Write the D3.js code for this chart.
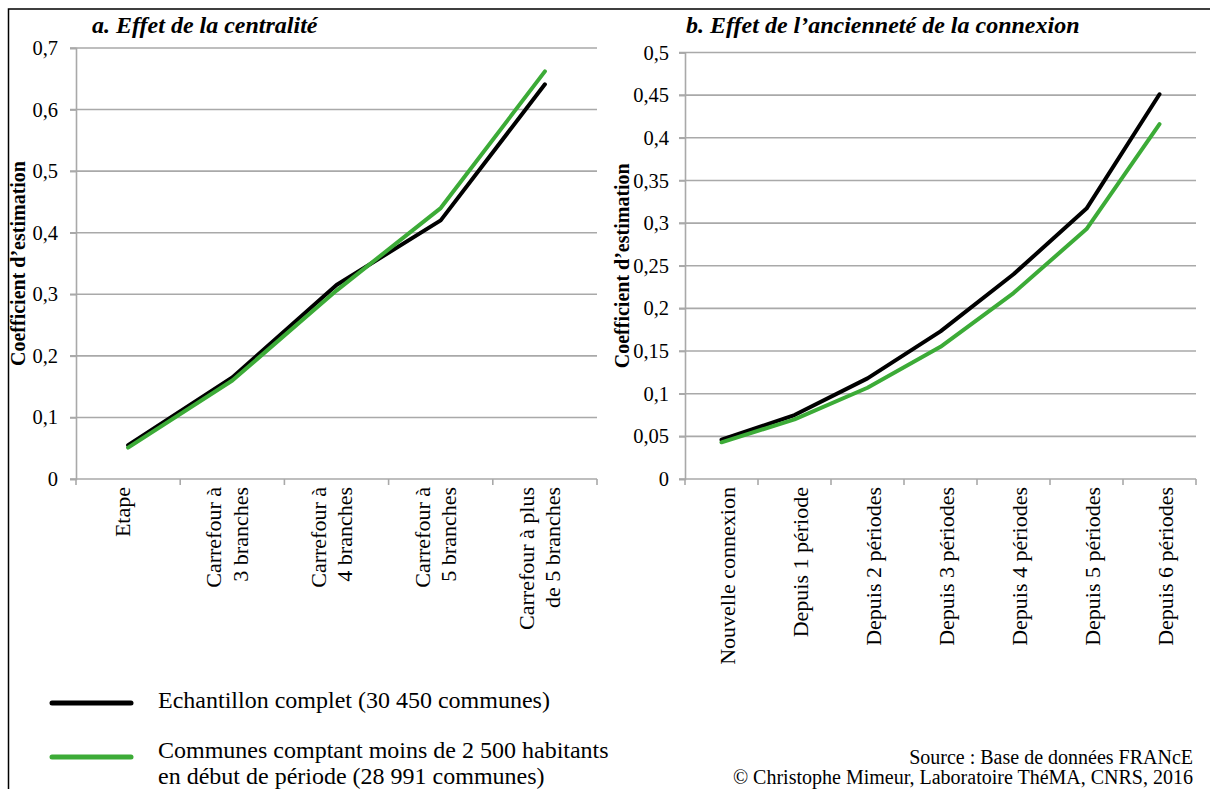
<!DOCTYPE html>
<html lang="fr">
<head>
<meta charset="utf-8">
<script src="https://cdn.jsdelivr.net/npm/d3@7"></script>
<style>
  html, body { margin: 0; padding: 0; background: #fff; }
  svg { display: block; font-family: "Liberation Serif", "Times New Roman", serif; }
  svg text { font-family: "Liberation Serif", "Times New Roman", serif; }
</style>
</head>
<body>
<svg id="chart" width="1210" height="789"></svg>
<script>
// Panel a: effect of centrality
const centralityCats = [["Etape"], ["Carrefour à", "3 branches"], ["Carrefour à", "4 branches"], ["Carrefour à", "5 branches"], ["Carrefour à plus", "de 5 branches"]];
const centralityFull = [0.055, 0.165, 0.315, 0.42, 0.641];
const centralitySmall = [0.051, 0.16, 0.306, 0.44, 0.662];
const centralityTicks = [0, 0.1, 0.2, 0.3, 0.4, 0.5, 0.6, 0.7];

// Panel b: effect of connection age
const connexionCats = [["Nouvelle connexion"], ["Depuis 1 période"], ["Depuis 2 périodes"], ["Depuis 3 périodes"], ["Depuis 4 périodes"], ["Depuis 5 périodes"], ["Depuis 6 périodes"]];
const connexionFull = [0.046, 0.075, 0.118, 0.173, 0.24, 0.317, 0.451];
const connexionSmall = [0.043, 0.07, 0.107, 0.155, 0.218, 0.293, 0.416];
const connexionTicks = [0, 0.05, 0.1, 0.15, 0.2, 0.25, 0.3, 0.35, 0.4, 0.45, 0.5];

const seriesNames = ["Echantillon complet (30 450 communes)", ["Communes comptant moins de 2 500 habitants", "en début de période (28 991 communes)"]];
const seriesColors = ["#000000", "#3cab37"];

const svg = d3.select("#chart");
const fmt = v => String(+v.toFixed(2)).replace(".", ",");

// outer frame (left and top edges)
svg.append("path")
  .attr("d", "M8.5,789 L8.5,9 L1210,9")
  .attr("fill", "none").attr("stroke", "#000").attr("stroke-width", 1.5);

function panel(opt) {
  const g = svg.append("g");
  const x = d3.scaleBand().domain(d3.range(opt.cats.length)).range([opt.x0, opt.x1]).paddingInner(0).paddingOuter(0);
  const y = d3.scaleLinear().domain([0, opt.max]).range([opt.yBottom, opt.yTop]);
  const cx = i => x(i) + x.bandwidth() / 2;

  // horizontal gridlines with outward ticks
  g.append("g").selectAll("line").data(opt.ticks.slice(1)).join("line")
    .attr("x1", opt.x0 - 6).attr("x2", opt.x1)
    .attr("y1", d => y(d)).attr("y2", d => y(d))
    .attr("stroke", "#a9a9a9").attr("stroke-width", 1.6);

  // y axis with labels
  const ya = g.append("g").attr("transform", `translate(${opt.x0},0)`)
    .call(d3.axisLeft(y).tickValues(opt.ticks).tickFormat(fmt).tickSize(6).tickPadding(opt.pad));
  ya.attr("font-family", null).attr("font-size", null);
  ya.select(".domain").attr("stroke", "#a9a9a9").attr("stroke-width", 1.6);
  ya.selectAll(".tick line").attr("stroke", "#a9a9a9").attr("stroke-width", 1.6);
  ya.selectAll(".tick text").attr("fill", "#000").style("font-size", "20.5px");

  // x axis line and boundary ticks
  g.append("line").attr("x1", opt.x0 - 6).attr("x2", opt.x1)
    .attr("y1", opt.yBottom).attr("y2", opt.yBottom)
    .attr("stroke", "#a9a9a9").attr("stroke-width", 1.6);
  const bounds = d3.range(opt.cats.length + 1).map(i => i < opt.cats.length ? x(i) : opt.x1);
  g.append("g").selectAll("line").data(bounds).join("line")
    .attr("x1", d => d).attr("x2", d => d)
    .attr("y1", opt.yBottom).attr("y2", opt.yBottom + 6)
    .attr("stroke", "#a9a9a9").attr("stroke-width", 1.6);

  // rotated category labels
  const fs = 22, lh = 26.5;
  opt.cats.forEach((lines, i) => {
    lines.forEach((t, j) => {
      const bx = cx(i) + (j - (lines.length - 1) / 2) * lh + fs * 0.33 + opt.labelShift;
      g.append("text")
        .attr("transform", `translate(${bx},${opt.yBottom + 8}) rotate(-90)`)
        .attr("text-anchor", "end")
        .style("font-size", fs + "px")
        .text(t);
    });
  });

  // series lines
  const line = d3.line().x((d, i) => cx(i)).y(d => y(d));
  [opt.full, opt.small].forEach((vals, k) => {
    g.append("path").datum(vals)
      .attr("d", line)
      .attr("fill", "none")
      .attr("stroke", seriesColors[k])
      .attr("stroke-width", 4)
      .attr("stroke-linejoin", "round")
      .attr("stroke-linecap", "round");
  });

  // panel title
  g.append("text").attr("x", opt.titleX).attr("y", 33)
    .style("font-size", "24px").style("font-weight", "bold").style("font-style", "italic")
    .text(opt.title);

  // axis title
  g.append("text")
    .attr("transform", `translate(${opt.axisTitleX},${(opt.yTop + opt.yBottom) / 2}) rotate(-90)`)
    .attr("text-anchor", "middle")
    .style("font-size", "20px").style("font-weight", "bold")
    .text("Coefficient d’estimation");
}

panel({
  cats: centralityCats, full: centralityFull, small: centralitySmall, ticks: centralityTicks,
  max: 0.7, x0: 76, x1: 597, yTop: 48, yBottom: 479, pad: 12, labelShift: -5,
  title: "a. Effet de la centralité", titleX: 92, axisTitleX: 25
});

panel({
  cats: connexionCats, full: connexionFull, small: connexionSmall, ticks: connexionTicks,
  max: 0.5, x0: 685, x1: 1196, yTop: 52.5, yBottom: 479, pad: 10, labelShift: 6,
  title: "b. Effet de l’ancienneté de la connexion", titleX: 686, axisTitleX: 629
});

// legend
const legend = svg.append("g");
const legendY = [703, 757];
legendY.forEach((ly, k) => {
  legend.append("line").attr("x1", 52).attr("x2", 131).attr("y1", ly).attr("y2", ly)
    .attr("stroke", seriesColors[k]).attr("stroke-width", 5).attr("stroke-linecap", "round");
});
legend.append("text").attr("x", 158).attr("y", 708).style("font-size", "24px").text(seriesNames[0]);
seriesNames[1].forEach((t, j) => {
  legend.append("text").attr("x", 158).attr("y", 758 + j * 26).style("font-size", "24px").text(t);
});

// source note
const src = ["Source : Base de données FRANcE", "© Christophe Mimeur, Laboratoire ThéMA, CNRS, 2016"];
src.forEach((t, j) => {
  svg.append("text").attr("x", 1193).attr("y", 764 + j * 20)
    .attr("text-anchor", "end").style("font-size", "20px").text(t);
});
</script>
</body>
</html>
